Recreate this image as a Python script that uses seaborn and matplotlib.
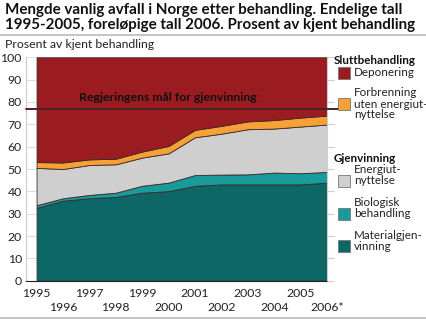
import matplotlib
matplotlib.use("Agg")
import matplotlib.pyplot as plt
import seaborn as sns
import numpy as np
from matplotlib.patches import Rectangle

years = [1995, 1996, 1997, 1998, 1999, 2000, 2001, 2002, 2003, 2004, 2005, 2006]
year_labels = ["1995", "1996", "1997", "1998", "1999", "2000", "2001", "2002", "2003", "2004", "2005", "2006*"]
materialgjenvinning = [32.6, 35.8, 36.9, 37.5, 39.4, 40.1, 42.5, 43.1, 43.1, 43.1, 43.1, 43.9]
biologisk = [1.2, 1.1, 1.5, 1.9, 3.1, 3.8, 4.8, 4.4, 4.5, 5.3, 5.0, 4.8]
energiutnyttelse = [16.7, 13.1, 13.4, 12.7, 12.6, 13.1, 16.9, 18.3, 20.2, 19.7, 20.9, 21.2]
forbrenning = [2.6, 2.9, 2.5, 2.5, 2.7, 3.3, 3.3, 3.5, 3.5, 3.8, 4.0, 4.0]
deponering = [100 - a - b - c - d for a, b, c, d in zip(materialgjenvinning, biologisk, energiutnyttelse, forbrenning)]
target = 77
target_label = "Regjeringens mål for gjenvinning"

colors = {
    "Materialgjen-\nvinning": "#0e6767",
    "Biologisk\nbehandling": "#1a9b9b",
    "Energiut-\nnyttelse": "#cfcfcf",
    "Forbrenning\nuten energiut-\nnyttelse": "#f7a035",
    "Deponering": "#9a1b20",
}

sns.set_style("white")
plt.rcParams["font.family"] = ["Lato", "DejaVu Sans"]
FS = 8.8
LFS = 8.4

fig = plt.figure(figsize=(4.26, 3.21), dpi=100)
ax = fig.add_axes([26 / 426, 1 - 280.7 / 321, (327 - 26) / 426, (280.7 - 57.3) / 321])

series = [materialgjenvinning, biologisk, energiutnyttelse, forbrenning, deponering]
ax.stackplot(years, *series, colors=list(colors.values()), edgecolor="#3a2a2a", linewidth=0.6, zorder=2)

ax.set_xlim(1994.6, 2006)
ax.set_ylim(0, 100)
ax.set_yticks(range(0, 101, 10))
ax.set_yticklabels([str(v) for v in range(0, 101, 10)], fontsize=FS, color="#222222")
ax.yaxis.grid(True, color="#dddddd", linewidth=0.8, zorder=0)
ax.set_axisbelow(True)
ax.tick_params(axis="y", length=0, pad=3)
ax.set_xticks(years[0::2])
ax.set_xticklabels(year_labels[0::2], fontsize=FS, color="#222222")
ax.set_xticks(years[1::2], minor=True)
ax.set_xticklabels(year_labels[1::2], minor=True, fontsize=FS, color="#222222")
ax.tick_params(axis="x", which="major", length=4, color="#bbbbbb", pad=1)
ax.tick_params(axis="x", which="minor", length=4, color="#bbbbbb", pad=11)

for s in ["left", "right"]:
    ax.spines[s].set_color("#cccccc")
    ax.spines[s].set_linewidth(0.8)
ax.spines["top"].set_visible(False)
ax.spines["bottom"].set_color("#222222")
ax.spines["bottom"].set_linewidth(0.8)

# right side ticks
axr = ax.twinx()
axr.set_ylim(0, 100)
axr.set_yticks(range(0, 101, 10))
axr.set_yticklabels([])
axr.tick_params(axis="y", length=5, color="#cccccc", direction="out")
for s in axr.spines.values():
    s.set_visible(False)

# target line
ax.plot([1994.6, 2006.4], [target, target], color="#4a2222", linewidth=1.4, clip_on=False, zorder=3)
ax.text(1996.6, target + 2.6, target_label, fontsize=FS, fontweight="bold", color="#111111", va="bottom", zorder=4)

# title and lines
fig.text(5 / 426, 1 - 3 / 321, "Mengde vanlig avfall i Norge etter behandling. Endelige tall\n1995-2005, foreløpige tall 2006. Prosent av kjent behandling",
         fontsize=10.9, fontweight="bold", va="top", ha="left", linespacing=1.05, color="#111111")
fig.add_artist(plt.Line2D([0, 1], [1 - 35 / 321, 1 - 35 / 321], color="#bbbbbb", linewidth=1.2))
fig.add_artist(plt.Line2D([0, 1], [1 - 318 / 321, 1 - 318 / 321], color="#bbbbbb", linewidth=1.2))
fig.text(5 / 426, 1 - 44 / 321, "Prosent av kjent behandling", fontsize=FS, va="center", ha="left", color="#222222")

# legend
def head(y, txt):
    fig.text(334 / 426, 1 - y / 321, txt, fontsize=LFS, fontweight="bold", va="center", ha="left", color="#111111")

def item(y_patch, y_text, txt, col):
    fig.add_artist(Rectangle((338 / 426, 1 - (y_patch + 6) / 321), 12 / 426, 12 / 321,
                             facecolor=col, edgecolor="#777777", linewidth=0.6, transform=fig.transFigure))
    fig.text(354 / 426, 1 - y_text / 321, txt, fontsize=LFS, va="center", ha="left", color="#222222", linespacing=1.0)

names = list(colors.keys())
head(61, "Sluttbehandling")
item(73, 73, "Deponering", colors["Deponering"])
item(104, 104, names[3], colors[names[3]])
head(158, "Gjenvinning")
item(181, 175, names[2], colors[names[2]])
item(214, 208, names[1], colors[names[1]])
item(246, 241, names[0], colors[names[0]])

fig.savefig("out.png", dpi=100)
